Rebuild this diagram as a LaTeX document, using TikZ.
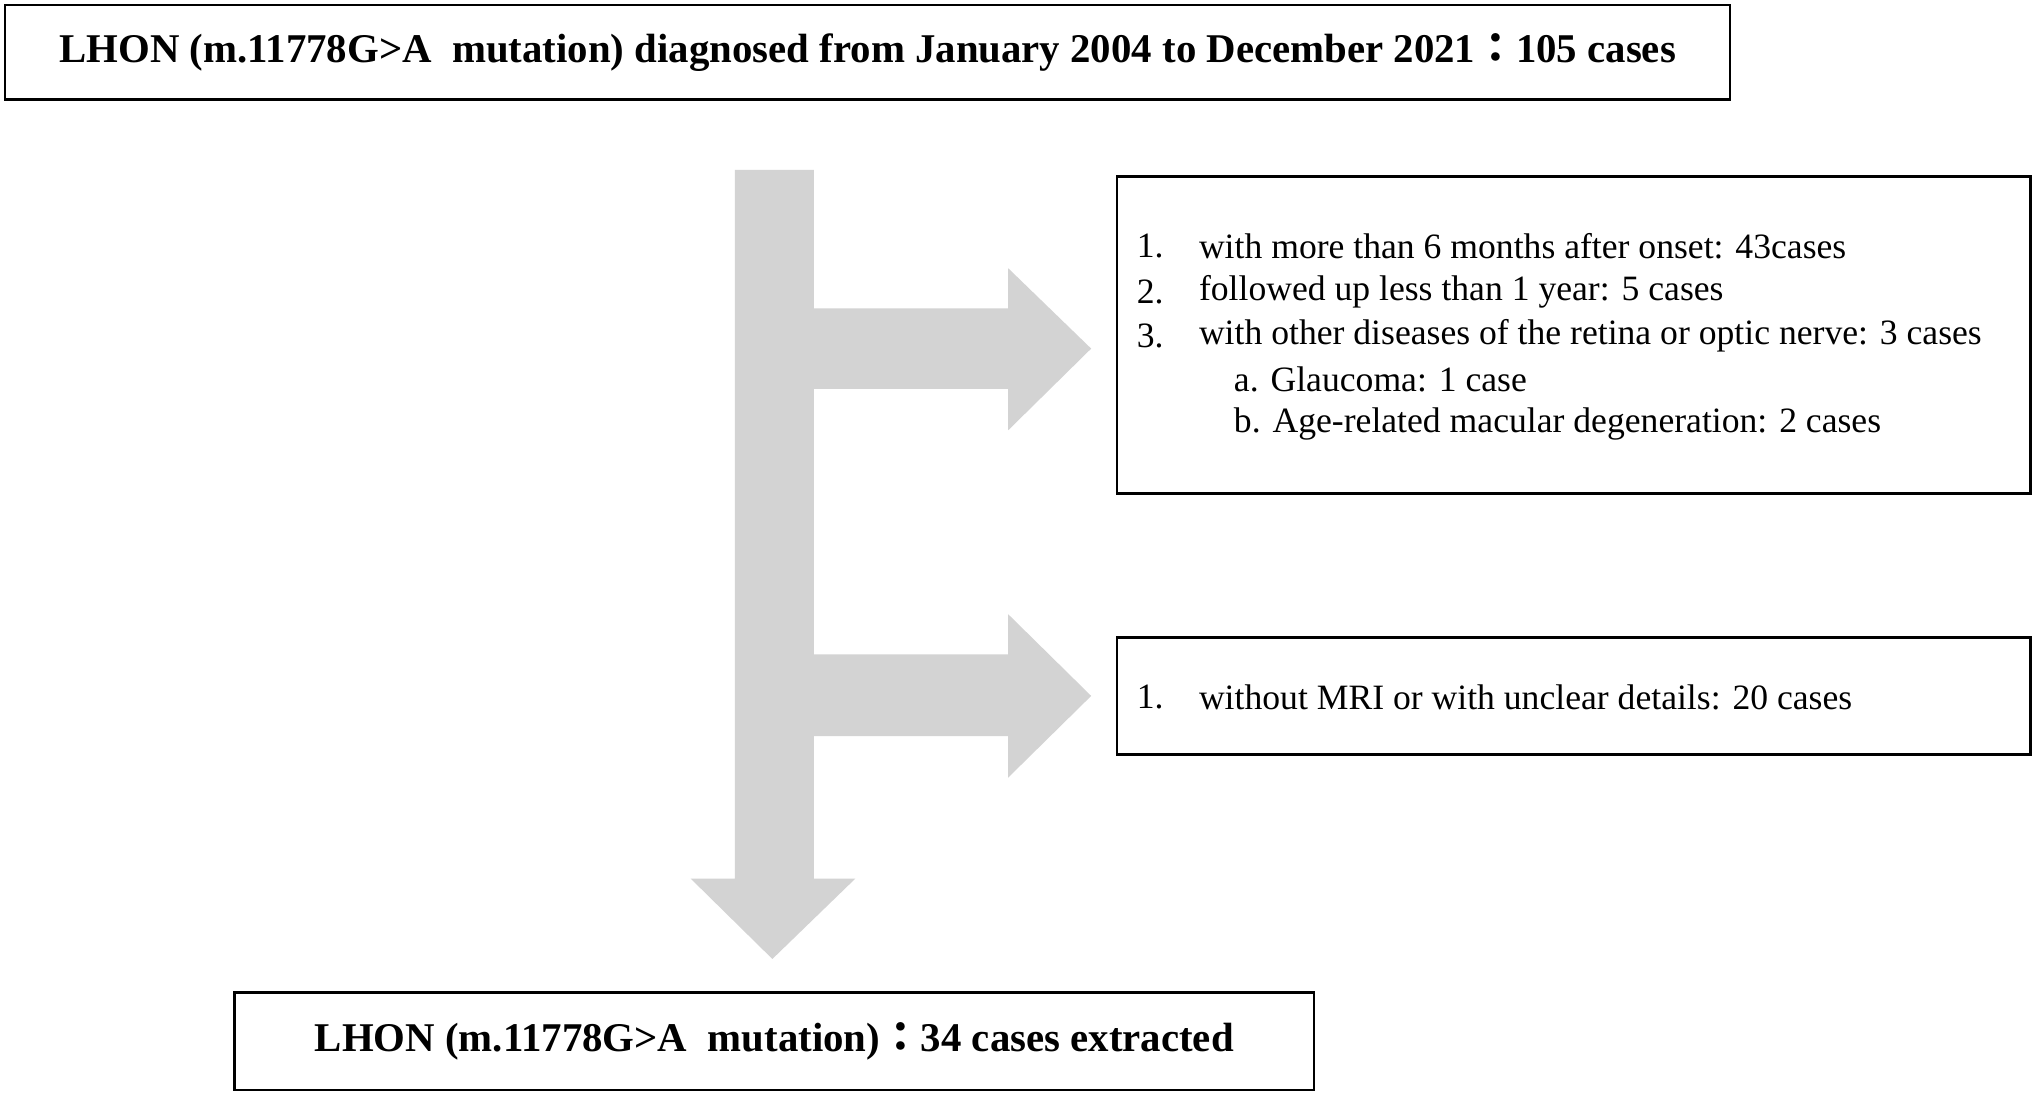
\documentclass[tikz,border=0pt]{standalone}
\usepackage{fontspec}
\setmainfont{Liberation Serif}
\newfontfamily\cjkfont{Noto Sans CJK JP}
\begin{document}
\begin{tikzpicture}[x=1pt,y=-1pt,
  box/.style={draw=black,line width=2pt,inner sep=0pt},
  txt/.style={anchor=west,inner sep=0pt,font=\fontsize{27.5}{32}\selectfont},
  btxt/.style={inner sep=0pt,font=\fontsize{31.5}{36}\selectfont\bfseries}]
\useasboundingbox (0,0) rectangle (1568,843);
\fill[fill={rgb,255:red,211;green,211;blue,211}]
 (567,131) -- (628,131) -- (628,238) -- (778,238) -- (778,207) -- (842,269) -- (778,332) -- (778,300) -- (628,300)
 -- (628,505) -- (778,505) -- (778,474) -- (842,537) -- (778,600) -- (778,568) -- (628,568)
 -- (628,678) -- (660,678) -- (596,740) -- (533,678) -- (567,678) -- cycle;
\node[box,minimum width=1331pt,minimum height=73pt,anchor=north west] (top) at (3,3) {};
\node[btxt] (toptext) at (top.center) {LHON (m.11778G>A\ \ mutation) diagnosed from January 2004 to December 2021{\cjkfont ：}105 cases};
\node[box,minimum width=705pt,minimum height=245pt,anchor=north west] (ex1) at (861,135) {};
\node[txt] (l1n) at (877,190) {1.};
\node[txt] (l1) at (925,190) {with more than 6 months after onset: 43cases};
\node[txt] (l2n) at (877,225) {2.};
\node[txt] (l2) at (925,225) {followed up less than 1 year: 5 cases};
\node[txt] (l3n) at (877,259) {3.};
\node[txt] (l3) at (925,259) {with other diseases of the retina or optic nerve: 3 cases};
\node[txt] (la) at (952,293) {a. Glaucoma: 1 case};
\node[txt] (lb) at (952,327) {b. Age-related macular degeneration: 2 cases};
\node[box,minimum width=705pt,minimum height=90pt,anchor=north west] (ex2) at (861,491) {};
\node[txt] (m1n) at (877,538) {1.};
\node[txt] (m1) at (925,538) {without MRI or with unclear details: 20 cases};
\node[box,minimum width=833pt,minimum height=75pt,anchor=north west] (bot) at (180,765) {};
\node[btxt] (bottext) at (bot.center) {LHON (m.11778G>A\ \ mutation){\cjkfont ：}34 cases extracted};
\end{tikzpicture}
\end{document}
